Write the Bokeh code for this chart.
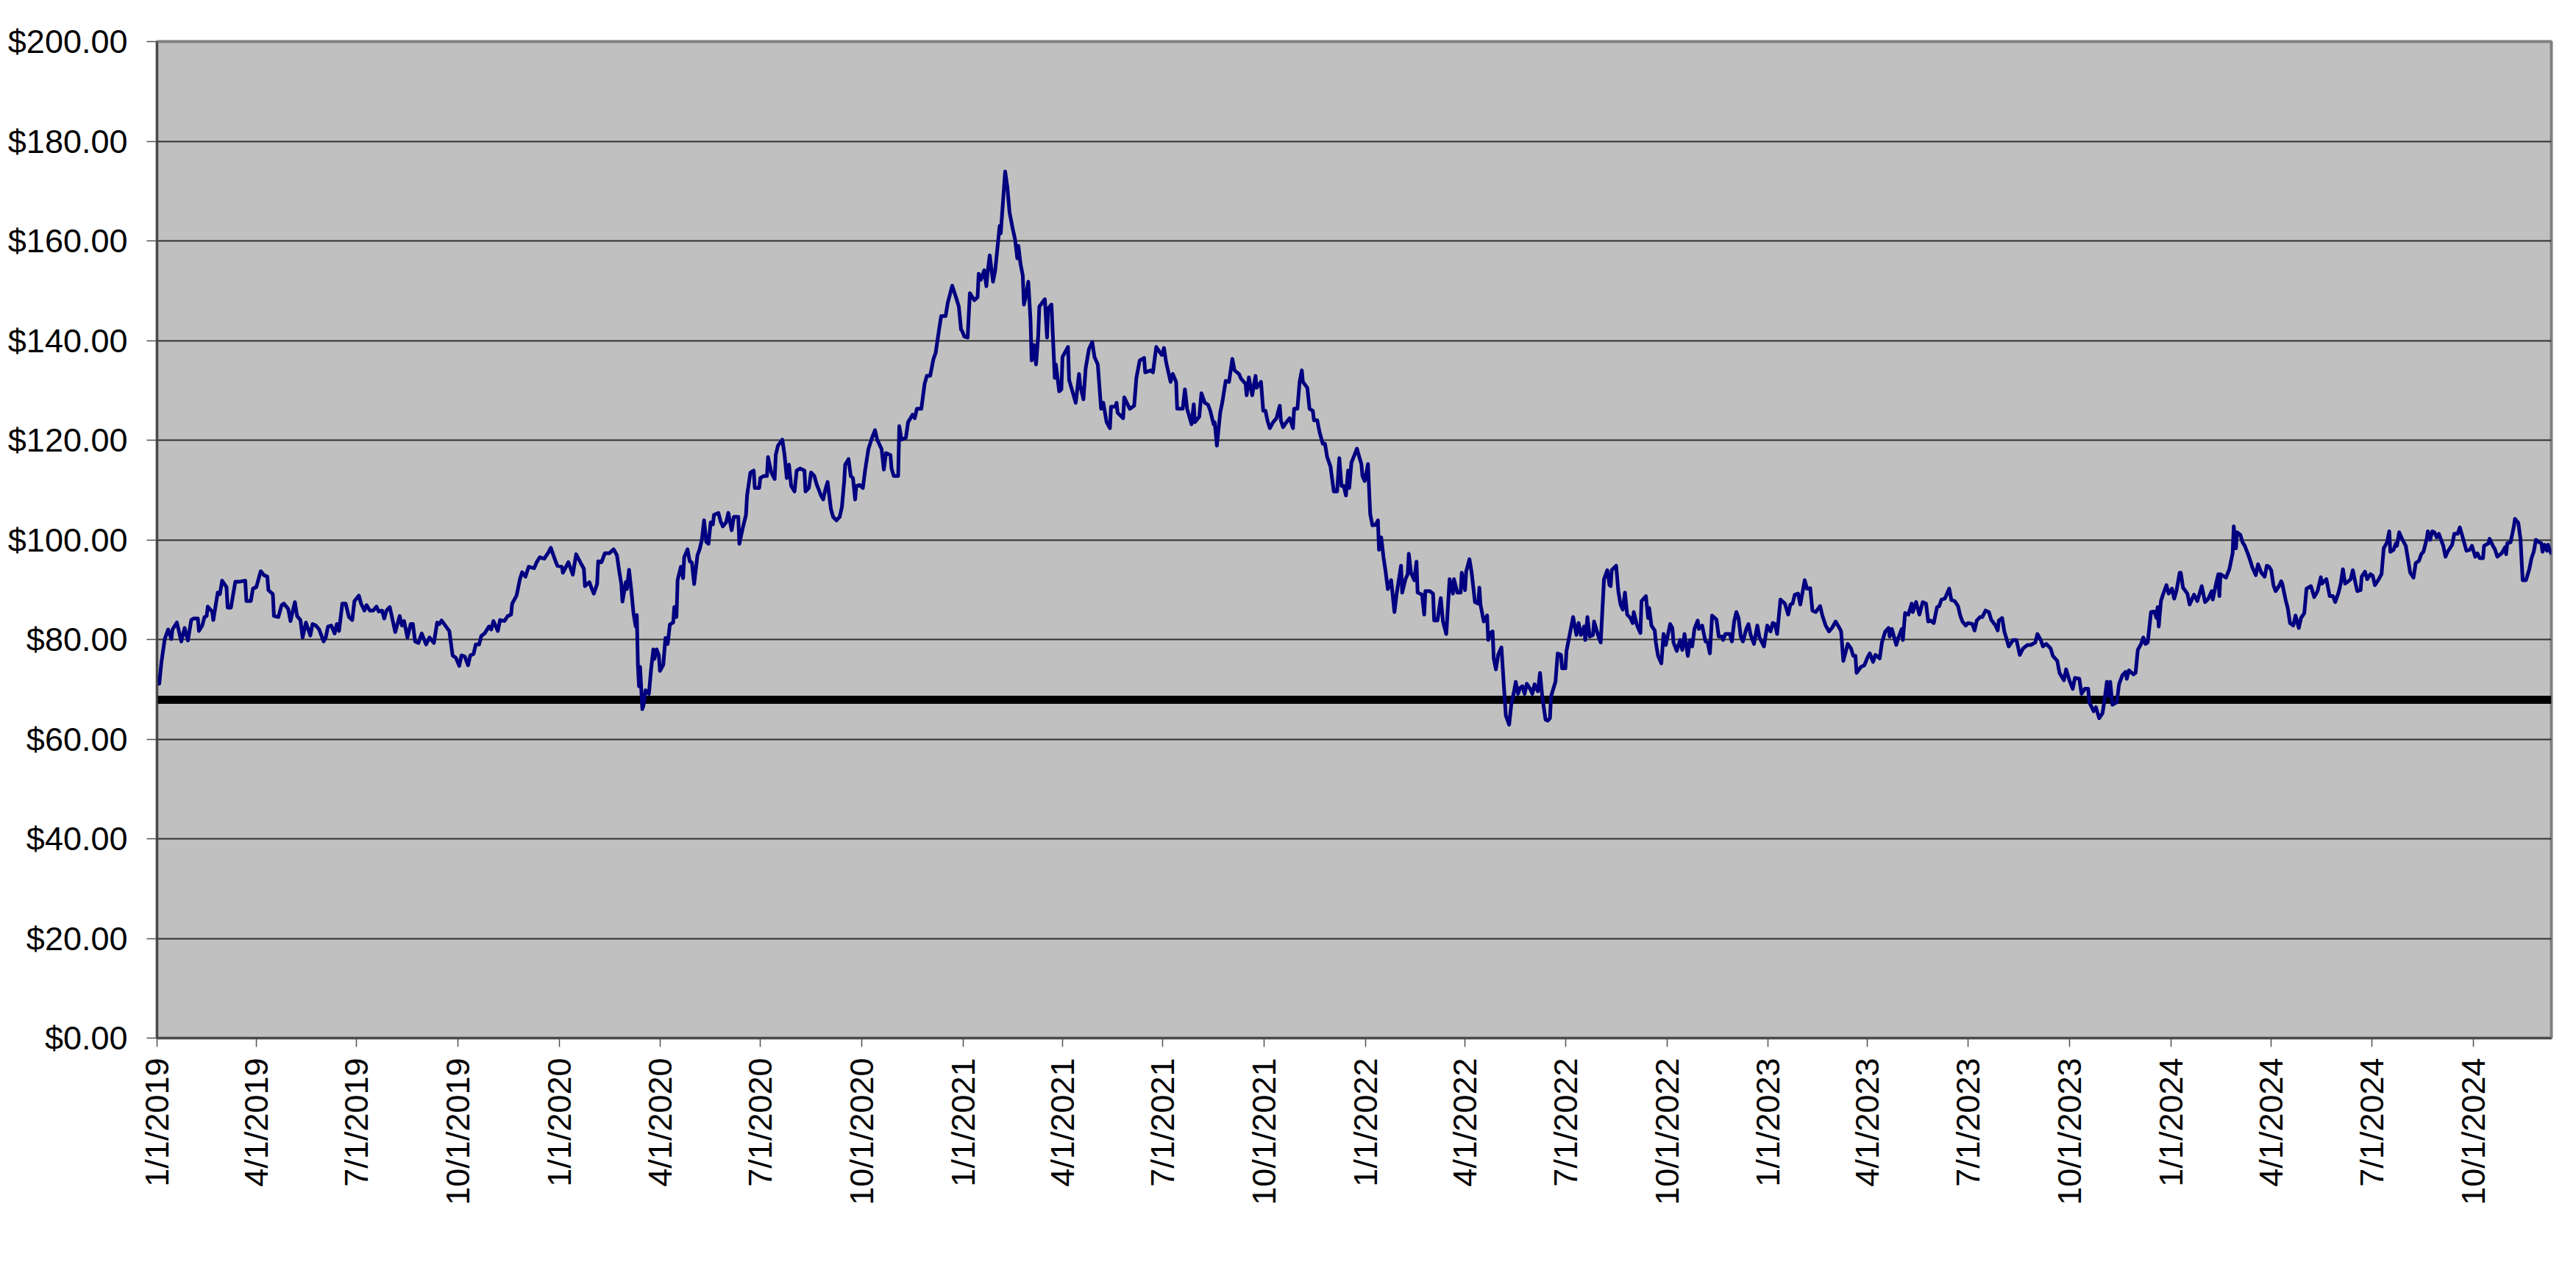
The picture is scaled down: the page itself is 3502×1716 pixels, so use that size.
import math
import pandas as pd
from bokeh.plotting import figure
from bokeh.models import Range1d, FixedTicker, NumeralTickFormatter, Span, ColumnDataSource
from bokeh.embed import file_html
from bokeh.resources import INLINE

start_date = "2019-01-01"
end_date = "2024-12-11"
threshold = 67.9
y_ticks = [0, 20, 40, 60, 80, 100, 120, 140, 160, 180, 200]
tick_labels = ["1/1/2019", "4/1/2019", "7/1/2019", "10/1/2019",
               "1/1/2020", "4/1/2020", "7/1/2020", "10/1/2020",
               "1/1/2021", "4/1/2021", "7/1/2021", "10/1/2021",
               "1/1/2022", "4/1/2022", "7/1/2022", "10/1/2022",
               "1/1/2023", "4/1/2023", "7/1/2023", "10/1/2023",
               "1/1/2024", "4/1/2024", "7/1/2024", "10/1/2024"]

# (days since start_date, closing price)
series = [
 (1,72.8),(2,71.1),(4,75.5),(7,80.1),(10,82.0),(13,80.1),(14,82.0),(18,83.4),(22,79.6),(25,82.3),
 (28,79.8),(31,83.9),(33,84.2),(37,84.2),(38,81.7),(41,82.8),(43,84.5),(45,84.7),(46,86.6),(50,85.6),
 (51,83.9),(55,89.4),(57,89.1),(59,91.8),(63,90.5),(64,86.4),(67,86.4),(71,91.6),(75,91.6),(80,91.8),
 (81,87.7),(85,87.7),(87,90.2),(90,90.5),(94,93.7),(97,92.9),(100,92.6),(101,89.9),(105,89.1),(106,84.7),
 (110,84.5),(113,86.9),(115,87.2),(119,86.1),(121,83.7),(125,87.5),(127,84.7),(130,83.9),(132,80.4),(135,83.4),
 (139,80.8),(141,83.1),(144,82.8),(147,82.0),(151,79.6),(153,80.4),(155,82.6),(158,82.8),(161,81.2),(163,83.1),
 (165,81.7),(168,87.2),(171,87.2),(174,84.5),(177,83.9),(179,87.7),(183,88.8),(185,87.2),(188,85.8),(190,86.9),
 (193,85.8),(196,85.8),(199,86.6),(201,85.6),(204,85.8),(206,84.2),(208,85.8),(211,86.5),(213,84.5),(216,81.5),
 (220,84.7),(222,82.8),(224,83.7),(227,80.4),(230,83.1),(232,83.1),(234,79.6),(237,79.3),(240,81.2),(244,79.0),
 (247,80.4),(251,79.3),(254,83.4),(256,83.1),(258,83.8),(262,82.6),(265,81.7),(268,76.8),(271,76.3),(274,74.7),
 (276,76.8),(279,76.6),(282,74.8),(284,76.8),(287,77.1),(289,79.0),(292,79.0),(294,80.7),(297,81.2),(301,82.6),
 (303,82.0),(305,83.7),(309,81.7),(311,83.9),(315,83.7),(318,84.7),(321,85.0),(322,87.2),(326,88.8),(329,92.1),
 (331,93.5),(334,92.6),(337,94.6),(342,94.3),(344,95.4),(347,96.5),(351,96.2),(355,97.5),(357,98.4),(361,95.9),
 (363,94.8),(367,94.6),(368,93.4),(373,95.5),(377,93.0),(380,97.1),(384,95.4),(387,94.2),(388,90.7),(392,91.5),
 (394,90.3),(396,89.2),(399,91.1),(400,95.7),(403,95.5),(406,97.3),(410,97.3),(414,98.1),(417,96.9),(419,93.8),
 (421,91.1),(422,87.6),(425,91.5),(426,90.1),(428,94.0),(430,89.9),(432,85.3),(434,82.6),(435,84.9),(436,74.9),
 (437,70.6),(438,74.5),(440,66.0),(441,66.7),(443,69.8),(446,69.1),(448,74.1),(450,78.0),(451,76.1),(453,78.0),
 (455,76.8),(456,73.7),(459,74.9),(461,80.3),(463,79.1),(465,83.0),(468,83.4),(469,86.5),(471,84.5),(472,91.9),
 (475,94.6),(477,92.3),(478,96.5),(481,98.1),(483,95.7),(485,95.4),(487,91.1),(490,96.9),(492,98.1),(494,100.0),
 (496,103.9),(498,99.6),(500,99.2),(502,103.5),(504,103.1),(505,105.0),(509,105.4),(511,103.7),(513,102.7),(516,103.5),
 (518,105.4),(521,101.9),(523,104.6),(527,104.6),(528,99.2),(531,102.3),(534,105.0),(535,108.9),(538,113.5),(541,113.9),
 (542,110.4),(546,110.4),(547,112.4),(550,112.8),(553,112.8),(554,116.6),(557,113.5),(560,112.2),(561,117.0),(563,118.9),
 (567,120.1),(569,117.0),(571,112.4),(573,115.1),(575,110.8),(578,109.7),(580,113.9),(583,114.3),(587,113.9),(588,109.7),
 (591,110.4),(593,113.5),(596,112.8),(598,111.2),(602,108.9),(604,108.1),(606,110.1),(608,111.6),(611,106.2),(613,104.6),
 (616,103.9),(619,104.6),(621,106.6),(623,111.6),(624,115.1),(627,116.2),(629,112.8),(631,112.4),(633,108.1),(634,110.8),
 (637,111.0),(640,110.4),(642,113.9),(645,118.2),(648,120.3),(651,122.0),(653,120.1),(657,118.2),(659,114.1),(661,117.4),
 (665,117.0),(666,114.3),(668,112.8),(672,112.8),(673,122.8),(675,120.1),(679,120.5),(681,123.6),(685,125.1),(687,124.4),
 (689,126.3),(693,126.3),(696,131.3),(698,132.9),(701,132.9),(704,136.3),(706,137.5),(709,142.1),(711,144.9),(715,144.9),
 (717,147.6),(721,151.0),(725,148.3),(727,146.8),(729,142.2),(730,141.9),(732,140.8),(735,140.6),(737,149.5),(741,148.1),
 (744,148.7),(745,153.4),(747,152.2),(750,154.1),(752,150.9),(753,153.4),(755,157.1),(758,151.8),(760,154.1),(764,163.0),
 (765,161.5),(769,173.9),(771,170.8),(773,165.7),(776,162.3),(778,160.3),(780,156.5),(781,159.0),(783,155.3),(785,153.0),
 (786,147.2),(788,149.1),(790,151.8),(792,144.1),(793,136.0),(795,139.1),(797,135.2),(799,141.0),(800,146.8),(805,148.3),
 (807,140.6),(808,146.4),(811,147.2),(814,132.5),(815,135.2),(818,129.8),(820,130.2),(821,136.7),(826,138.7),(827,132.1),
 (830,129.8),(833,127.5),(836,133.3),(837,131.0),(840,128.2),(842,134.4),(845,138.3),(848,139.7),(850,136.7),(853,135.2),
 (856,126.3),(858,127.5),(861,123.6),(864,122.4),(865,126.7),(869,126.7),(870,127.5),(871,125.5),(876,124.4),(877,128.6),
 (882,126.3),(886,126.9),(888,132.5),(891,136.0),(895,136.5),(896,133.6),(901,134.0),(903,133.6),(906,138.7),(911,137.1),
 (913,138.5),(915,135.6),(919,131.7),(921,133.3),(924,131.7),(925,126.3),(930,126.3),(932,130.2),(934,126.3),(938,123.2),
 (940,127.2),(941,123.6),(945,124.7),(947,129.4),(950,127.5),(953,127.1),(955,125.9),(958,123.2),(959,123.6),(961,118.9),
 (964,125.5),(966,127.7),(969,131.9),(972,131.7),(975,136.3),(977,134.0),(981,133.3),(983,132.3),(987,131.3),(988,129.0),
 (990,132.6),(993,129.0),(996,132.9),(997,130.5),(1001,131.7),(1003,125.9),(1005,125.9),(1007,123.8),(1009,122.4),(1012,123.6),
 (1015,124.4),(1018,126.9),(1019,124.0),(1021,122.6),(1024,123.6),(1027,124.4),(1030,122.4),(1031,126.3),(1034,126.3),(1036,131.7),
 (1038,134.0),(1039,131.7),(1043,130.5),(1045,126.3),(1048,125.9),(1049,124.0),(1052,124.0),(1054,121.7),(1057,119.3),(1059,119.3),
 (1061,116.6),(1064,114.7),(1067,109.7),(1070,109.7),(1072,116.4),(1074,110.8),(1076,110.8),(1078,108.9),(1080,113.9),(1081,110.4),
 (1083,115.5),(1085,116.6),(1088,118.3),(1090,116.7),(1092,115.2),(1093,112.8),(1095,111.8),(1097,114.0),(1098,115.2),(1100,105.2),
 (1102,102.9),(1105,103.0),(1107,103.9),(1108,98.0),(1110,100.5),(1112,96.6),(1114,93.6),(1116,90.1),(1119,91.9),(1122,85.5),
 (1124,89.2),(1128,94.8),(1129,89.4),(1132,92.1),(1134,93.1),(1135,97.2),(1137,93.4),(1140,91.9),(1142,95.6),(1143,89.4),
 (1147,89.0),(1149,85.0),(1150,89.7),(1154,89.7),(1157,89.2),(1158,83.8),(1161,83.8),(1164,88.3),(1166,83.6),(1169,81.1),
 (1172,92.1),(1175,89.2),(1176,92.1),(1179,89.4),(1182,89.4),(1183,93.4),(1186,89.9),(1187,93.6),(1190,96.1),(1192,93.4),
 (1195,87.5),(1198,87.2),(1199,90.4),(1200,87.0),(1203,83.6),(1206,84.8),(1207,79.9),(1209,81.3),(1211,81.6),(1212,76.2),
 (1214,74.0),(1216,76.9),(1219,78.4),(1221,71.5),(1223,64.7),(1226,62.9),(1228,67.1),(1230,69.1),(1232,71.5),(1234,69.1),
 (1236,70.3),(1238,70.6),(1240,69.1),(1242,71.1),(1245,70.1),(1247,69.1),(1249,71.0),(1252,69.6),(1254,73.3),(1256,68.6),
 (1259,63.9),(1261,63.7),(1263,64.2),(1264,68.6),(1268,71.5),(1270,77.2),(1273,76.9),(1274,74.2),(1277,74.2),(1278,77.7),
 (1281,81.1),(1284,84.5),(1287,80.9),(1289,83.3),(1291,80.9),(1294,82.6),(1295,79.9),(1297,84.5),(1299,80.6),(1302,80.9),
 (1303,83.6),(1307,80.6),(1309,79.4),(1312,92.1),(1315,93.9),(1317,90.9),(1318,90.7),(1319,93.9),(1323,94.8),(1325,89.7),
 (1327,87.0),(1329,86.0),(1331,89.4),(1333,85.0),(1336,84.3),(1338,83.3),(1339,85.5),(1342,82.8),(1345,81.3),(1346,87.7),
 (1350,88.7),(1352,84.3),(1353,86.3),(1355,82.8),(1358,81.8),(1359,79.4),(1361,76.7),(1364,75.2),(1366,81.1),(1368,78.9),
 (1372,83.1),(1374,82.3),(1375,79.4),(1378,77.7),(1381,79.9),(1383,77.9),(1385,81.1),(1388,76.7),(1390,79.9),(1392,78.6),
 (1394,82.1),(1397,83.8),(1398,82.1),(1401,82.8),(1404,79.6),(1406,79.4),(1408,77.2),(1410,84.8),(1414,84.0),(1416,80.6),
 (1419,80.6),(1420,79.9),(1422,81.1),(1426,81.1),(1428,79.6),(1430,83.6),(1432,85.5),(1434,84.3),(1436,80.6),(1438,79.6),
 (1441,82.1),(1443,83.1),(1445,80.9),(1448,79.1),(1451,82.8),(1453,80.4),(1457,78.6),(1460,82.8),(1463,81.6),(1465,83.3),
 (1467,83.1),(1469,81.1),(1472,88.0),(1476,87.2),(1479,85.0),(1481,87.0),(1483,87.2),(1485,89.0),(1488,89.2),(1490,87.0),
 (1494,91.9),(1496,90.2),(1499,90.3),(1501,85.8),(1504,85.5),(1508,86.7),(1510,84.8),(1513,82.8),(1516,81.6),(1519,82.4),
 (1522,83.6),(1526,82.1),(1527,81.6),(1529,75.7),(1533,79.1),(1536,78.2),(1538,76.7),(1540,76.7),(1541,73.3),(1545,74.5),
 (1548,74.8),(1551,76.4),(1553,77.2),(1556,75.5),(1558,76.9),(1562,76.2),(1564,79.4),(1567,81.6),(1570,82.3),(1571,80.6),
 (1573,82.1),(1577,78.9),(1579,80.4),(1582,82.1),(1583,79.9),(1585,85.3),(1588,85.0),(1591,87.2),(1592,85.5),(1595,87.5),
 (1598,85.0),(1601,87.5),(1604,87.2),(1606,83.6),(1608,83.8),(1611,83.3),(1614,86.5),(1616,86.7),(1618,88.0),(1621,88.2),
 (1625,90.2),(1627,87.9),(1630,87.7),(1633,86.7),(1635,84.8),(1637,83.6),(1640,82.8),(1642,83.3),(1646,83.1),(1648,81.8),
 (1650,83.8),(1653,84.5),(1655,84.5),(1658,85.8),(1661,85.5),(1663,84.0),(1667,82.8),(1669,81.8),(1670,83.8),(1673,84.3),
 (1675,81.6),(1679,78.6),(1683,79.9),(1686,79.9),(1689,76.9),(1692,78.2),(1696,78.9),(1699,78.9),(1703,79.4),(1705,81.1),
 (1708,79.9),(1710,78.6),(1713,79.1),(1717,78.2),(1719,76.7),(1723,75.7),(1725,73.3),(1729,71.8),(1731,74.0),(1734,71.8),
 (1737,70.1),(1739,72.3),(1743,72.1),(1745,69.1),(1748,70.1),(1751,70.1),(1752,67.4),(1756,65.6),(1758,66.4),(1761,64.2),
 (1764,65.2),(1766,68.1),(1768,71.5),(1770,68.6),(1771,71.5),(1773,66.9),(1777,67.4),(1779,71.0),(1782,72.8),(1785,73.5),
 (1786,72.1),(1788,73.8),(1792,73.0),(1794,73.3),(1796,77.9),(1799,79.1),(1801,80.4),(1803,79.1),(1805,79.4),(1808,85.5),
 (1811,85.6),(1813,84.3),(1814,86.5),(1815,82.6),(1817,87.7),(1819,89.1),(1822,90.9),(1824,89.2),(1827,90.2),(1829,88.2),
 (1831,89.7),(1834,93.4),(1835,93.4),(1837,90.4),(1841,89.2),(1843,87.0),(1847,89.0),(1850,87.7),(1852,89.2),(1854,90.7),
 (1857,87.5),(1860,88.2),(1863,89.7),(1864,88.0),(1867,91.2),(1869,93.1),(1870,88.7),(1871,93.1),(1876,92.4),(1879,94.1),
 (1882,97.3),(1883,102.7),(1885,98.3),(1886,101.5),(1889,101.0),(1891,99.5),(1893,98.8),(1896,97.1),(1898,95.8),(1900,94.4),
 (1903,92.9),(1905,95.1),(1908,93.4),(1911,92.6),(1913,94.8),(1915,94.6),(1917,93.9),(1919,90.9),(1921,89.7),(1924,90.7),
 (1926,91.7),(1927,91.2),(1930,88.0),(1932,86.3),(1934,83.3),(1937,82.8),(1939,84.8),(1942,82.3),(1944,84.3),(1947,85.3),
 (1949,90.2),(1953,90.7),(1956,88.5),(1959,89.7),(1962,92.5),(1963,91.2),(1967,92.1),(1970,88.7),(1973,88.7),(1975,87.5),
 (1978,89.4),(1980,91.2),(1982,94.1),(1984,91.2),(1987,91.7),(1989,92.1),(1991,93.9),(1993,91.7),(1995,89.7),(1998,89.9),
 (1999,92.6),(2002,93.6),(2004,92.1),(2007,93.1),(2009,92.8),(2011,90.9),(2014,91.9),(2017,93.1),(2019,98.3),(2022,99.5),
 (2024,101.7),(2025,97.6),(2028,98.0),(2030,99.3),(2031,98.8),(2033,101.5),(2036,100.0),(2039,98.8),(2041,96.1),(2043,93.4),
 (2046,92.4),(2048,95.3),(2051,95.8),(2053,97.1),(2055,97.6),(2058,100.2),(2059,101.7),(2061,100.0),(2063,101.7),(2065,101.5),
 (2067,100.5),(2069,101.2),(2073,98.8),(2075,96.6),(2077,97.6),(2081,99.0),(2083,101.2),(2086,101.2),(2088,102.5),(2091,100.2),
 (2094,97.8),(2097,98.0),(2099,98.8),(2102,96.6),(2104,97.3),(2106,96.3),(2109,96.3),(2110,98.8),(2114,99.3),(2115,100.2),
 (2118,98.8),(2120,98.0),(2122,96.6),(2126,97.3),(2129,98.5),(2130,97.1),(2131,99.3),(2134,99.5),(2137,102.7),(2138,104.2),
 (2141,103.4),(2143,100.2),(2145,91.9),(2148,91.9),(2150,93.4),(2151,94.1),(2153,96.3),(2155,97.6),(2157,100.0),(2160,99.5),
 (2162,99.3),(2163,97.6),(2165,99.0),(2167,97.8),(2168,99.0),(2171,97.1),
]
day_offset = [d for d, _ in series]
price = [v for _, v in series]

start = pd.Timestamp(start_date)
dates = start + pd.to_timedelta(day_offset, unit="D")
src = ColumnDataSource(data=dict(date=dates, price=price))

tick_dates = [pd.to_datetime(t, format="%m/%d/%Y") for t in tick_labels]
tick_ms = [int(t.value // 10**6) for t in tick_dates]

p = figure(width=3486, height=1700, x_axis_type="datetime",
           x_range=Range1d(start, pd.Timestamp(end_date)), y_range=Range1d(0, 200),
           output_backend="svg", toolbar_location=None,
           min_border_left=213, min_border_right=18, min_border_top=56, min_border_bottom=289)

p.background_fill_color = "#C0C0C0"
p.border_fill_color = "white"
p.outline_line_color = "#808080"
p.outline_line_width = 4

p.xgrid.visible = False
p.ygrid.grid_line_color = "#303030"
p.ygrid.grid_line_width = 1.8
p.ygrid.ticker = FixedTicker(ticks=y_ticks)

p.yaxis.ticker = FixedTicker(ticks=y_ticks)
p.yaxis.formatter = NumeralTickFormatter(format="$0.00")
p.xaxis.ticker = FixedTicker(ticks=tick_ms)
p.xaxis.major_label_overrides = {ms: lab for ms, lab in zip(tick_ms, tick_labels)}
p.xaxis.major_label_orientation = math.pi / 2

for ax in (p.xaxis[0], p.yaxis[0]):
    ax.major_label_text_font = "Liberation Sans"
    ax.major_label_text_font_size = "45px"
    ax.major_label_text_color = "black"
    ax.axis_line_color = "#404040"
    ax.axis_line_width = 2.5
    ax.major_tick_in = 0
    ax.minor_tick_in = 0
    ax.minor_tick_out = 0
    ax.major_tick_line_color = "#505050"
    ax.major_tick_line_width = 1.5

p.yaxis.major_tick_out = 14
p.yaxis.major_label_standoff = 26
p.xaxis.major_tick_out = 12
p.xaxis.major_label_standoff = 15

p.add_layout(Span(location=threshold, dimension="width", line_color="black",
                  line_width=11, level="underlay"))
p.line(x="date", y="price", source=src, line_color="#000080", line_width=5,
       line_join="round")

open("out.html", "w").write(file_html(p, INLINE))
